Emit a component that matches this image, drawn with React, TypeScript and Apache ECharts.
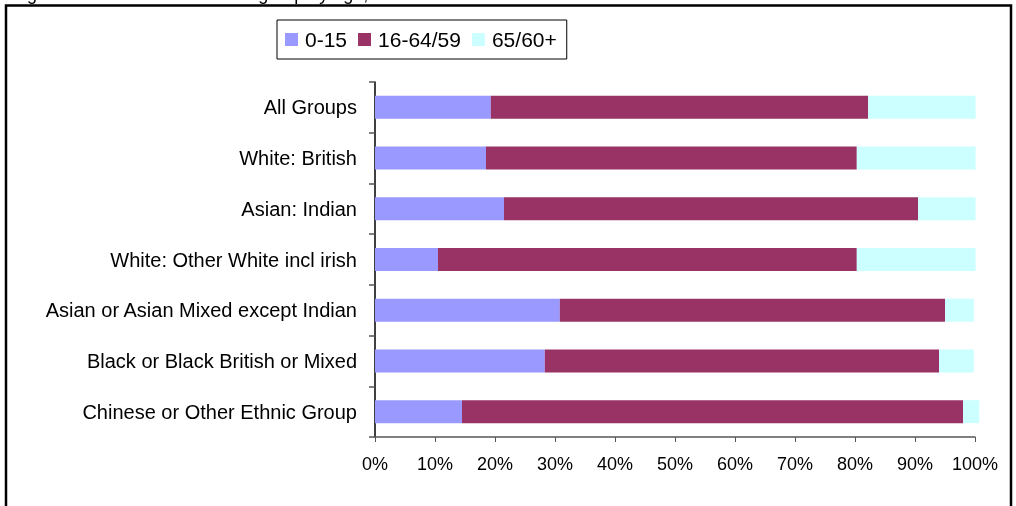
import React, { useEffect, useRef } from "react";
import * as echarts from "echarts";

const categories = [
  "All Groups",
  "White: British",
  "Asian: Indian",
  "White: Other White incl irish",
  "Asian or Asian Mixed except Indian",
  "Black or Black British or Mixed",
  "Chinese or Other Ethnic Group",
];
const age0to15 = [19.3, 18.5, 21.5, 10.5, 30.8, 28.3, 14.5];
const age16to64 = [62.9, 61.8, 69.0, 69.8, 64.2, 65.7, 83.5];
const age65plus = [17.9, 19.8, 9.6, 19.8, 4.8, 5.8, 2.7];
const seriesNames = ["0-15", "16-64/59", "65/60+"];
const colors = ["#9999FF", "#993366", "#CCFFFF"];
const titleText = "Figure 6: Share of each ethnic group by age, 2001";

export default function App() {
  const ref = useRef<HTMLDivElement>(null);
  useEffect(() => {
    if (!ref.current) return;
    const chart = echarts.init(ref.current, null, { renderer: "svg" });
    const font = "Arial, 'Liberation Sans', sans-serif";
    const data = [age0to15, age16to64, age65plus];
    chart.setOption({
      animation: false,
      textStyle: { fontFamily: font },
      graphic: [
        {
          type: "rect",
          shape: { x: 6, y: 5.5, width: 1005, height: 540 },
          style: { fill: "none", stroke: "#000", lineWidth: 2.5 },
          silent: true,
        },
        {
          type: "text",
          x: 12,
          y: -15,
          style: {
            text: titleText,
            font: `18px ${font}`,
            fill: "#000",
            verticalAlign: "top",
          },
          silent: true,
        },
      ],
      legend: {
        left: 277,
        top: 20,
        orient: "horizontal",
        data: seriesNames,
        itemWidth: 13,
        itemHeight: 13,
        itemGap: 11,
        padding: [9, 10, 9, 8],
        borderColor: "#000",
        borderWidth: 1,
        icon: "rect",
        textStyle: {
          fontSize: 21,
          color: "#000",
          fontFamily: font,
          padding: [0, 0, 0, 2],
        },
      },
      grid: {
        left: 375,
        right: 41,
        top: 82,
        bottom: 69,
        containLabel: false,
      },
      xAxis: {
        type: "value",
        min: 0,
        max: 100,
        interval: 10,
        axisLine: { show: true, lineStyle: { color: "#555", width: 1.5 } },
        axisTick: { show: true, length: 5, lineStyle: { color: "#555" } },
        splitLine: { show: false },
        axisLabel: {
          formatter: "{value}%",
          fontSize: 18,
          color: "#000",
          margin: 18,
          fontFamily: font,
        },
      },
      yAxis: {
        type: "category",
        inverse: true,
        data: categories,
        axisLine: { show: true, lineStyle: { color: "#000", width: 1.5 } },
        axisTick: {
          show: true,
          length: 6,
          alignWithLabel: false,
          lineStyle: { color: "#555", width: 1.5 },
        },
        axisLabel: {
          fontSize: 20,
          color: "#000",
          margin: 18,
          fontFamily: font,
        },
      },
      series: seriesNames.map((name, i) => ({
        name,
        type: "bar",
        stack: "total",
        barWidth: 23,
        clip: false,
        itemStyle: { color: colors[i] },
        data: data[i],
      })),
    });
    return () => chart.dispose();
  }, []);
  return (
    <div
      ref={ref}
      style={{ position: "fixed", left: 0, top: 0, width: 1016, height: 506 }}
    />
  );
}
